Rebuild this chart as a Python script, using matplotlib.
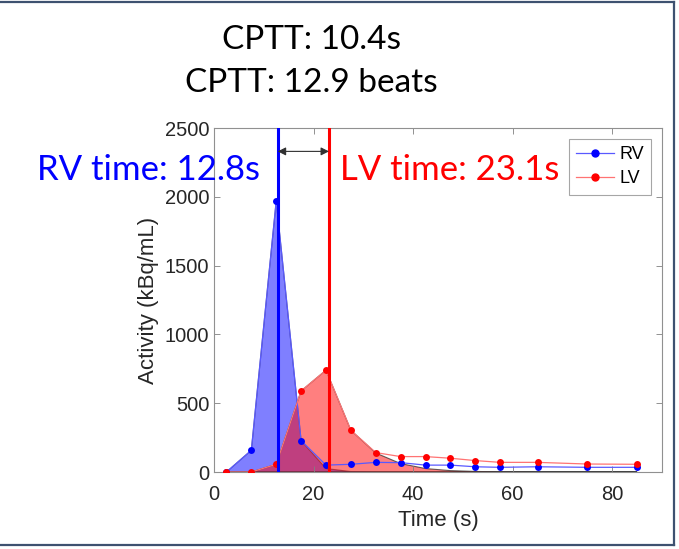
import numpy as np
import matplotlib.pyplot as plt
from matplotlib.lines import Line2D

plt.rcParams['xtick.direction'] = 'in'
plt.rcParams['ytick.direction'] = 'in'
plt.rcParams['font.family'] = ['Liberation Sans', 'DejaVu Sans']

# sample times (s)
t = [2.5, 7.5, 12.5, 17.5, 22.5, 27.5, 32.5, 37.5, 42.5, 47.5, 52.5, 57.5, 65, 75, 85]
# measured activity (kBq/mL)
rv = [0, 158, 1970, 228, 50, 56, 70, 68, 50, 50, 38, 34, 38, 34, 34]
lv = [0, 0, 56, 589, 740, 303, 141, 112, 112, 100, 83, 70, 70, 58, 56]
# shaded bolus curves
rv_fit = [0, 158, 1970, 228, 25, 3, 0, 0, 0, 0, 0, 0, 0, 0, 0]
lv_fit = [0, 0, 56, 589, 740, 303, 138, 61, 25, 10, 4, 1, 0, 0, 0]

rv_time = 12.8
lv_time = 23.1
cptt_s = 10.4
cptt_beats = 12.9

fig = plt.figure(figsize=(6.79, 5.49), dpi=100)
ax = fig.add_axes([214/679, 77/549, 448/679, 344/549])

tc = np.r_[t[0], t, t[-1]]
ax.fill(tc, np.r_[0, rv_fit, 0], facecolor=(0, 0, 1, 0.5), edgecolor=(0.15, 0.15, 0.15, 0.6), lw=0.8, zorder=1)
ax.fill(tc, np.r_[0, lv_fit, 0], facecolor=(1, 0, 0, 0.5), edgecolor=(0.15, 0.15, 0.15, 0.7), lw=0.8, zorder=1)

ax.plot(t, rv, '-', color=(0.35, 0.35, 1), lw=0.9, zorder=3)
ax.plot(t, rv, 'o', color='#0000ff', ms=5, mew=0, zorder=4)
ax.plot(t, lv, '-', color=(1, 0.45, 0.45), lw=0.9, zorder=3)
ax.plot(t, lv, 'o', color='#ff0000', ms=5, mew=0, zorder=4)

ax.axvline(rv_time, color='#0000ff', lw=2.2, zorder=5)
ax.axvline(lv_time, color='#ff0000', lw=2.2, zorder=5)
ax.annotate('', xy=(rv_time, 2330), xytext=(lv_time, 2330),
            arrowprops=dict(arrowstyle='<|-|>', color='#303030', lw=0.8,
                            mutation_scale=12, shrinkA=0, shrinkB=0), zorder=6)

ax.text(9.25, 2121, 'RV time: %.1fs' % rv_time, color='#0000ff',
        fontsize=25, family=['Lato', 'DejaVu Sans'], ha='right', va='baseline', clip_on=False)
ax.text(25.3, 2121, 'LV time: %.1fs' % lv_time, color='#ff0000',
        fontsize=25, family=['Lato', 'DejaVu Sans'], ha='left', va='baseline')

ax.set_xlim(0, 90)
ax.set_ylim(0, 2500)
ax.set_xticks([0, 20, 40, 60, 80])
ax.set_yticks([0, 500, 1000, 1500, 2000, 2500])
ax.tick_params(top=True, right=True, labelsize=14.5, colors='#262626', length=4, width=0.6)
ax.tick_params(axis='x', pad=9)
ax.tick_params(color='#808080')
for s in ax.spines.values():
    s.set_color('#909090')
    s.set_linewidth(0.8)
ax.set_xlabel('Time (s)', fontsize=16, color='#262626', labelpad=5)
ax.set_ylabel('Activity (kBq/mL)', fontsize=16, color='#262626', labelpad=4)

handles = [Line2D([], [], color=(0.35, 0.35, 1), lw=0.9, marker='o', ms=5, mfc='#0000ff', mec='#0000ff'),
           Line2D([], [], color=(1, 0.45, 0.45), lw=0.9, marker='o', ms=5, mfc='#ff0000', mec='#ff0000')]
leg = ax.legend(handles, ['RV', 'LV'], loc='upper right', fontsize=13, frameon=True, fancybox=False,
                edgecolor='#909090', handlelength=2.1, borderaxespad=0.6, labelspacing=0.4,
                handletextpad=0.3, borderpad=0.4)
leg.get_frame().set_linewidth(0.8)

fig.text(311/679, 1 - 48.5/549, 'CPTT: %.1fs' % cptt_s, fontsize=24,
         family=['Lato', 'DejaVu Sans'], ha='center', va='baseline')
fig.text(311/679, 1 - 92.5/549, 'CPTT: %.1f beats' % cptt_beats, fontsize=24,
         family=['Lato', 'DejaVu Sans'], ha='center', va='baseline')

# slide frame
fc = '#3e5170'
fig.add_artist(Line2D([0, 674/679], [1 - 2/549, 1 - 2/549], color=fc, lw=1.6, transform=fig.transFigure))
fig.add_artist(Line2D([674/679, 674/679], [1 - 2/549, 1 - 545/549], color=fc, lw=1.6, transform=fig.transFigure))
fig.add_artist(Line2D([0, 674/679], [1 - 545/549, 1 - 545/549], color=fc, lw=1.6, transform=fig.transFigure))

fig.savefig('out.png', dpi=100)
